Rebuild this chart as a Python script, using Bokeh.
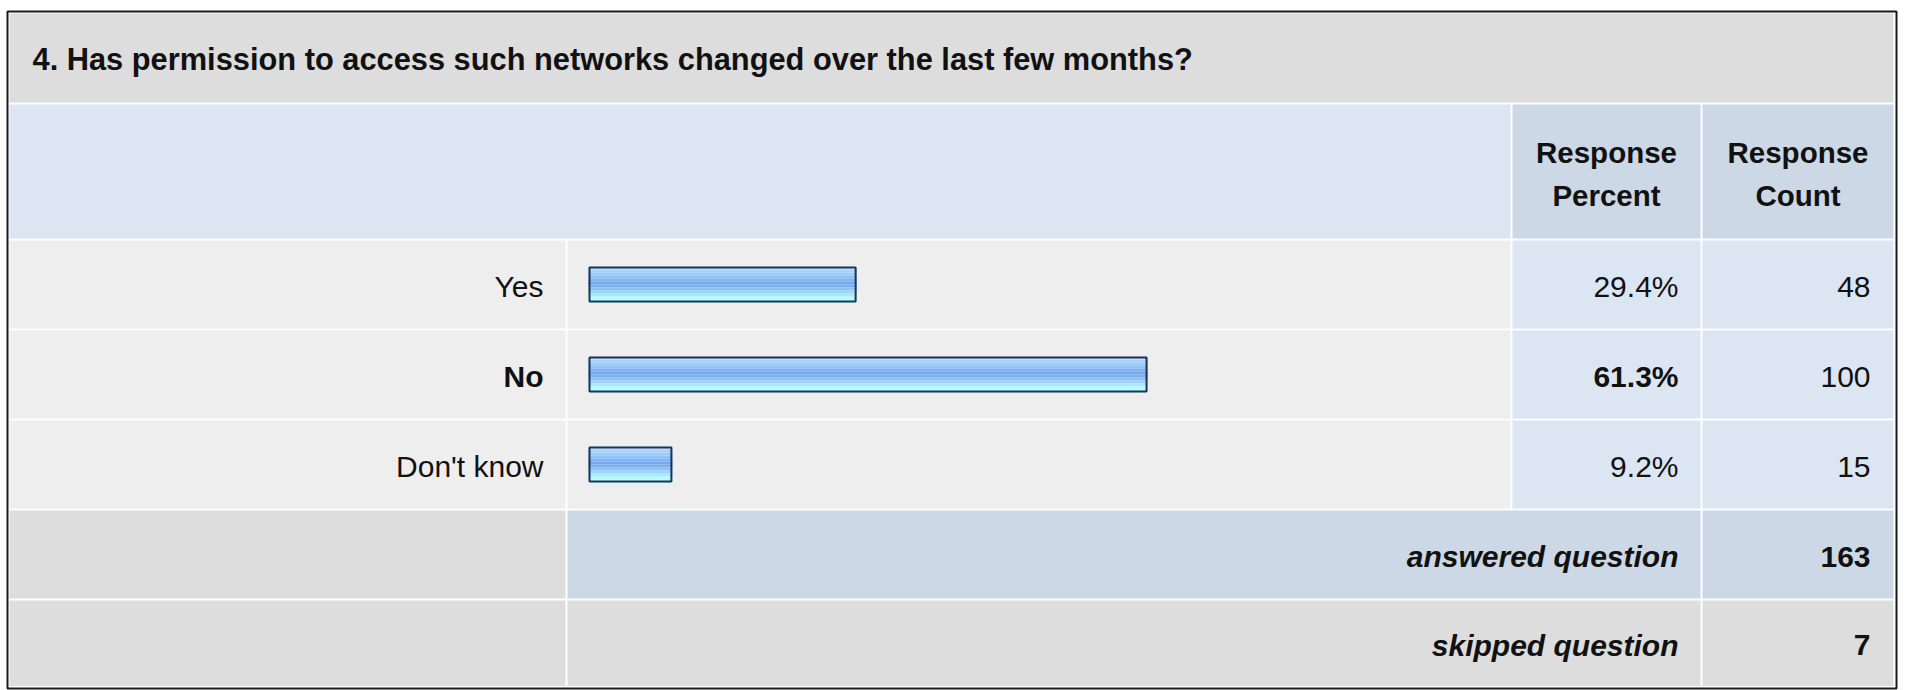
from bokeh.plotting import figure
from bokeh.models import Range1d, ColumnDataSource
from bokeh.core.properties import value
from bokeh.embed import file_html
from bokeh.resources import INLINE

# ---------------- data ----------------
title = "4. Has permission to access such networks changed over the last few months?"
header_percent = ["Response", "Percent"]
header_count = ["Response", "Count"]
categories = ["Yes", "No", "Don't know"]
percents = [29.4, 61.3, 9.2]
counts = [48, 100, 15]
footer_labels = ["answered question", "skipped question"]
footer_values = [163, 7]

# ---------------- layout / style ----------------
W, H = 1907, 690
FONT = value("Liberation Sans")
FS = "30px"
FS_HEAD = "29.5px"
FS_TITLE = "30.8px"

# columns (pixel coordinates)
C0 = (9, 565)      # labels
C1 = (567, 1510)   # bars
C2 = (1512, 1700)  # percent
C3 = (1702, 1893)  # count
TITLE_ROW = (13, 102)
HEAD_ROW = (104, 238)
ROW0_TOP, ROW_PITCH, ROW_H = 240, 90, 88

BAR_LEFT = 588
PX_PER_PCT = 9.12
BAR_H = 36

C_TITLE = "#dddddd"
C_HEAD = "#dce6f2"
C_HEAD_DARK = "#ccd8e6"
C_ROW = "#eeeeee"
C_ROW_BLUE = "#dce6f2"
C_FOOT = "#dddddd"
C_FOOT_BLUE = "#ccd8e6"
TEXT = "#111111"

STRIPES = ["#c4e2ff", "#a9d3fd", "#9ccbfb", "#90c2f8", "#80b4f3", "#74a9f0",
           "#7aaff1", "#8cc2f6", "#9cd3f9", "#aae8fc", "#b2fbff", "#b2ffff"]

p = figure(width=W, height=H, x_range=Range1d(0, W), y_range=Range1d(H, 0),
           output_backend="svg", toolbar_location=None, min_border=0,
           x_axis_location=None, y_axis_location=None)
p.grid.visible = False
p.outline_line_color = None
p.background_fill_color = "white"
p.border_fill_color = "white"

# ---------------- cells ----------------
cells = dict(l=[], r=[], t=[], b=[], c=[])
def cell(x, y, color):
    cells["l"].append(x[0]); cells["r"].append(x[1])
    cells["t"].append(y[0]); cells["b"].append(y[1]); cells["c"].append(color)

cell((C0[0], C3[1]), TITLE_ROW, C_TITLE)
cell((C0[0], C1[1]), HEAD_ROW, C_HEAD)
cell(C2, HEAD_ROW, C_HEAD_DARK)
cell(C3, HEAD_ROW, C_HEAD_DARK)

row_centers = []
for i in range(len(categories)):
    top = ROW0_TOP + i * ROW_PITCH
    yr = (top, top + ROW_H)
    row_centers.append(top + ROW_H / 2)
    cell(C0, yr, C_ROW)
    cell(C1, yr, C_ROW)
    cell(C2, yr, C_ROW_BLUE)
    cell(C3, yr, C_ROW_BLUE)

foot_centers = []
for j in range(len(footer_labels)):
    top = ROW0_TOP + (len(categories) + j) * ROW_PITCH
    bottom = min(top + ROW_H, 685.5)
    yr = (top, bottom)
    foot_centers.append((top + bottom) / 2)
    mid = C_FOOT_BLUE if j == 0 else C_FOOT
    cell(C0, yr, C_FOOT)
    cell((C1[0], C2[1]), yr, mid)
    cell(C3, yr, mid)

p.quad(left="l", right="r", top="t", bottom="b", fill_color="c",
       line_color=None, source=ColumnDataSource(cells))

# outer frame
p.quad(left=[7], right=[1896], top=[11], bottom=[688], fill_color=None,
       line_color="#1a1a1a", line_width=2)

# ---------------- bars (gradient stripes) ----------------
stripes = dict(l=[], r=[], t=[], b=[], c=[])
outlines = dict(l=[], r=[], t=[], b=[])
n = len(STRIPES)
for i, pct in enumerate(percents):
    yc = row_centers[i]
    top = yc - BAR_H / 2
    right = BAR_LEFT + pct * PX_PER_PCT
    for k, col in enumerate(STRIPES):
        stripes["l"].append(BAR_LEFT); stripes["r"].append(right)
        stripes["t"].append(top + k * BAR_H / n)
        stripes["b"].append(top + (k + 1) * BAR_H / n)
        stripes["c"].append(col)
    outlines["l"].append(BAR_LEFT + 1); outlines["r"].append(right - 1)
    outlines["t"].append(top + 1); outlines["b"].append(top + BAR_H - 1)

p.quad(left="l", right="r", top="t", bottom="b", fill_color="c",
       line_color=None, source=ColumnDataSource(stripes))
p.quad(left="l", right="r", top="t", bottom="b", fill_color=None,
       line_color="#1f3454", line_width=2, source=ColumnDataSource(outlines))

# ---------------- texts ----------------
def txt(x, y, s, align="left", style="normal", size=FS):
    p.text(x=[x], y=[y], text=[s], text_align=align, text_baseline="middle",
           text_font=FONT, text_font_size=size, text_font_style=style,
           text_color=TEXT)

txt(32, 59, title, style="bold", size=FS_TITLE)

c2mid = (C2[0] + C2[1]) / 2
c3mid = (C3[0] + C3[1]) / 2
for k in range(2):
    yy = 152 + k * 43
    txt(c2mid, yy, header_percent[k], align="center", style="bold", size=FS_HEAD)
    txt(c3mid, yy, header_count[k], align="center", style="bold", size=FS_HEAD)

best = percents.index(max(percents))
for i, cat in enumerate(categories):
    st = "bold" if i == best else "normal"
    y = row_centers[i] + 2
    txt(C0[1] - 22, y, cat, align="right", style=st)
    txt(C2[1] - 22, y, f"{percents[i]:.1f}%", align="right", style=st)
    txt(C3[1] - 23, y, str(counts[i]), align="right")

for j, lab in enumerate(footer_labels):
    y = foot_centers[j] + 2
    txt(C2[1] - 22, y, lab, align="right", style="bold italic")
    txt(C3[1] - 23, y, str(footer_values[j]), align="right", style="bold")

open("out.html", "w").write(file_html(p, INLINE))
